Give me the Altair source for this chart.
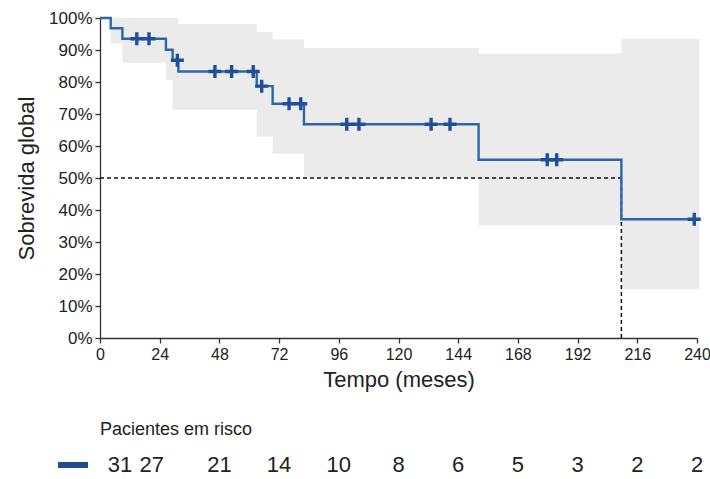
import altair as alt
import pandas as pd

# Kaplan-Meier step curve (months, survival fraction)
step_time = [0, 4.3, 9.0, 26.5, 29.2, 31.5, 63.0, 69.4, 82.0, 152.2, 209.6, 240]
step_surv = [1.0, 0.968, 0.935, 0.901, 0.868, 0.833, 0.787, 0.732, 0.668, 0.557, 0.371, 0.371]

# Censored observations
censor_time = [14.8, 19.7, 31.1, 46.2, 52.9, 61.6, 65.0, 76.0, 80.7, 99.2, 104.1,
               133.1, 140.7, 179.8, 183.6, 238.9]
censor_surv = [0.935, 0.935, 0.868, 0.833, 0.833, 0.833, 0.787, 0.732, 0.732, 0.668, 0.668,
               0.668, 0.668, 0.557, 0.557, 0.371]

# Confidence band
ci_time = [4.3, 9.0, 26.5, 29.2, 31.5, 63.0, 69.4, 82.0, 152.2, 209.6, 241]
ci_lower = [0.92, 0.86, 0.806, 0.713, 0.713, 0.63, 0.576, 0.50, 0.352, 0.152, 0.152]
ci_upper = [1.0, 1.0, 1.0, 1.0, 0.981, 0.956, 0.933, 0.906, 0.889, 0.934, 0.934]

# Median survival
median_time = 209.6
median_surv = 0.5

# Numbers at risk
risk_time = [0, 24, 48, 72, 96, 120, 144, 168, 192, 216, 240]
risk_n = [31, 27, 21, 14, 10, 8, 6, 5, 3, 2, 2]

x_ticks = list(range(0, 241, 24))
y_ticks = [0, 0.1, 0.2, 0.3, 0.4, 0.5, 0.6, 0.7, 0.8, 0.9, 1.0]

step_df = pd.DataFrame({"time": step_time, "surv": step_surv})
cens_df = pd.DataFrame({"time": censor_time, "surv": censor_surv})
ci_df = pd.DataFrame({"time": ci_time, "lo": ci_lower, "hi": ci_upper})
risk_df = pd.DataFrame({"time": risk_time, "n": risk_n, "idx": list(range(len(risk_n)))})
hline_df = pd.DataFrame({"time": [0], "x2": [median_time], "surv": [median_surv]})
vline_df = pd.DataFrame({"time": [median_time], "surv": [0], "y2": [median_surv]})

xscale = alt.Scale(domain=[0, 240], nice=False)
yscale = alt.Scale(domain=[0, 1], nice=False)

font = "Liberation Sans, Arial, sans-serif"

xaxis = alt.Axis(values=x_ticks, title="Tempo (meses)", grid=False, labelFontSize=16,
                 labelFont=font, labelOverlap=False, labelFlush=False,
                 titleFontSize=22, titleFont=font,
                 titleFontWeight="normal", tickSize=5, labelPadding=3, titlePadding=7)
yaxis = alt.Axis(values=y_ticks, format=".0%", title="Sobrevida global", grid=False,
                 labelFontSize=17, labelFont=font, labelOverlap=False, labelFlush=False,
                 titleFontSize=22, titleFont=font,
                 titleFontWeight="normal", tickSize=5, labelPadding=3, titlePadding=10)

X = alt.X("time:Q", scale=xscale, axis=xaxis)


def Y(field):
    return alt.Y(field, scale=yscale, axis=yaxis)


band = alt.Chart(ci_df).mark_area(interpolate="step-after", color="#EBEBEB", opacity=1).encode(
    x=X, y=Y("lo:Q"), y2="hi:Q",
)

hline = alt.Chart(hline_df).mark_rule(color="#111111", strokeDash=[4, 3], strokeWidth=1.5).encode(
    x=X, x2="x2:Q", y=Y("surv:Q")
)
vline = alt.Chart(vline_df).mark_rule(color="#111111", strokeDash=[4, 3], strokeWidth=1.5).encode(
    x=X, y=Y("surv:Q"), y2="y2:Q"
)

line = alt.Chart(step_df).mark_line(interpolate="step-after", color="#2C66AA", strokeWidth=2.4).encode(
    x=X, y=Y("surv:Q")
)

cens = alt.Chart(cens_df).mark_point(
    shape="M-1,0L1,0M0,-1L0,1", size=170, strokeWidth=3.4, color="#1D4F9B",
    filled=False, opacity=1
).encode(x=X, y=Y("surv:Q"))

risk_title = alt.Chart(pd.DataFrame({"t": ["Pacientes em risco"]})).mark_text(
    align="left", baseline="middle", fontSize=18, color="#222222", font=font
).encode(x=alt.value(0), y=alt.value(412), text="t:N")

swatch = alt.Chart(pd.DataFrame({"k": [1]})).mark_rect(color="#1F4E8F").encode(
    x=alt.value(-42), x2=alt.value(-12), y=alt.value(444), y2=alt.value(450)
)

risk_base = alt.Chart(risk_df)
risk_style = dict(align="center", baseline="middle", fontSize=22, font=font, color="#222222")
risk_first = risk_base.transform_filter("datum.idx == 0").mark_text(dx=20, **risk_style).encode(
    x=X, y=alt.value(447), text="n:Q")
risk_second = risk_base.transform_filter("datum.idx == 1").mark_text(dx=-8, **risk_style).encode(
    x=X, y=alt.value(447), text="n:Q")
risk_rest = risk_base.transform_filter("datum.idx > 1").mark_text(**risk_style).encode(
    x=X, y=alt.value(447), text="n:Q")

chart = alt.layer(
    band, hline, vline, line, cens, risk_title, swatch, risk_first, risk_second, risk_rest
).properties(
    width=597, height=320,
    autosize=alt.AutoSizeParams(type="none"),
    padding={"left": 100, "top": 18, "right": 13, "bottom": 141},
    background="white",
).configure_view(stroke=None).configure_axis(
    domainColor="#333333", tickColor="#333333", labelColor="#222222", titleColor="#222222",
    domainWidth=1.3, tickWidth=1.3
)

chart.save("out.html", embed_options={"renderer": "svg", "actions": False})
